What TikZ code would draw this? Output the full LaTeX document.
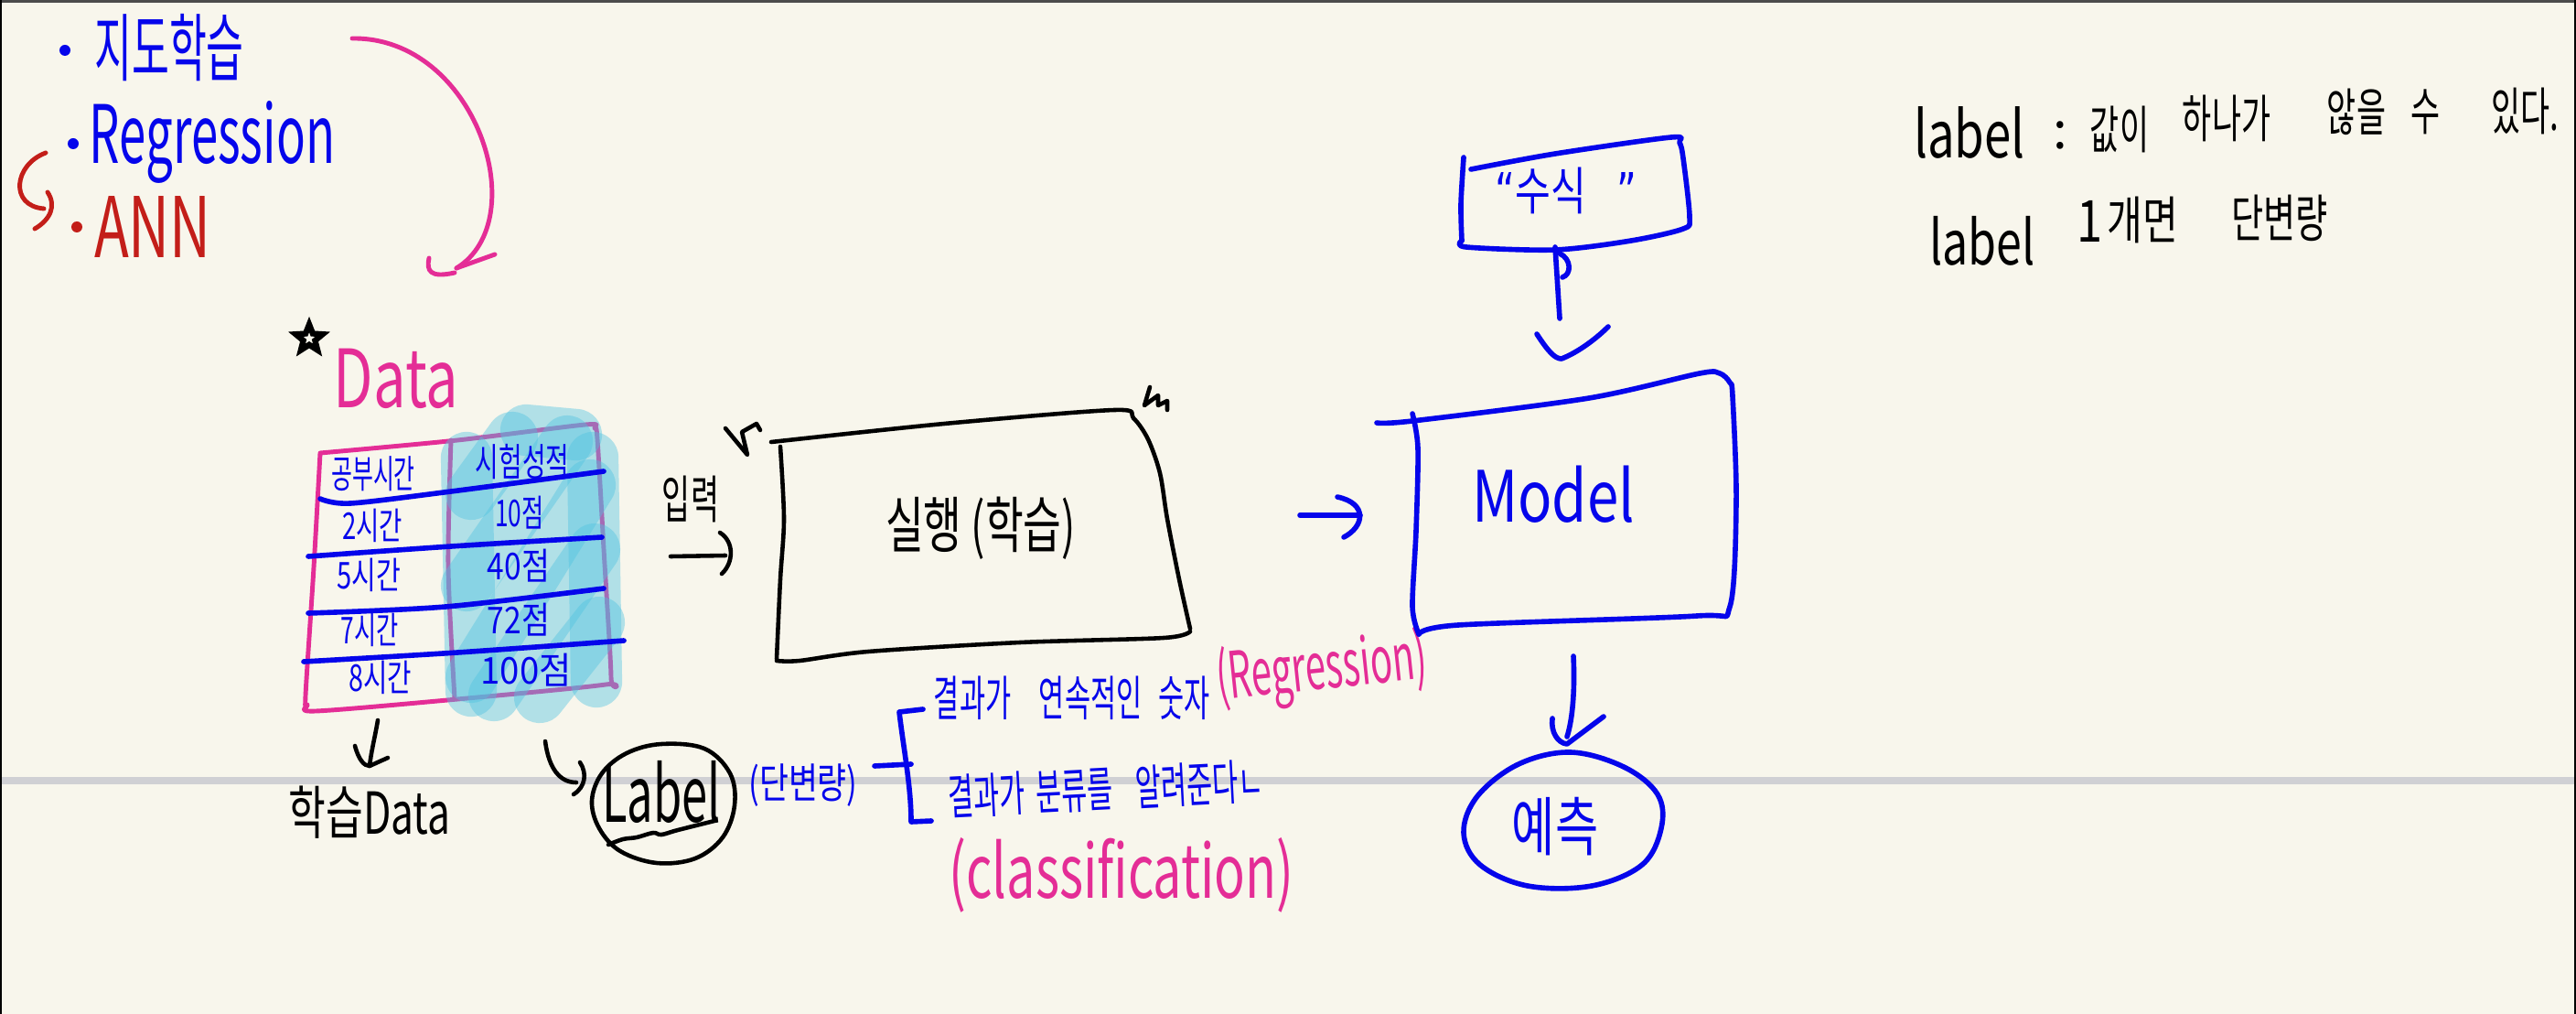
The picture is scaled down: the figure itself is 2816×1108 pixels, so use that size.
\documentclass[tikz,border=0pt]{standalone}
\usepackage{fontspec}
\usepackage{graphicx}
\setmainfont{Noto Sans CJK KR}
\newfontfamily\dvs{DejaVu Sans}
\usetikzlibrary{shapes.geometric}
\definecolor{paper}{RGB}{248,246,236}
\definecolor{penblue}{RGB}{5,5,235}
\definecolor{penpink}{RGB}{228,45,150}
\definecolor{penred}{RGB}{195,30,25}
\definecolor{hlcyan}{RGB}{80,195,225}
\definecolor{rulegray}{RGB}{208,208,212}
\newcommand\hw[3]{\fontsize{#1}{#1}\selectfont\scalebox{#2}[1]{#3}}
\begin{document}
\begin{tikzpicture}[x=0.1mm,y=-0.1mm,
  bl/.style={draw=penblue,line width=1.6pt,line cap=round,line join=round},
  bk/.style={draw=black,line width=1.3pt,line cap=round,line join=round},
  pk/.style={draw=penpink,line width=1.4pt,line cap=round,line join=round},
  rd/.style={draw=penred,line width=1.4pt,line cap=round,line join=round},
  hl/.style={draw=hlcyan,line width=16pt,line cap=round,opacity=0.42},
  txt/.style={inner sep=0pt,outer sep=0pt,anchor=center},
  tb/.style={txt,text=penblue},
  tk/.style={txt,text=black},
  tp/.style={txt,text=penpink},
  tr/.style={txt,text=penred}]
\useasboundingbox (0,0) rectangle (2816,1108);
\fill[paper] (0,0) rectangle (2816,1108);
\draw[rulegray,line width=2pt] (0,853) -- (2816,853);
\draw[black!70,line width=1pt] (0,1.5) -- (2816,1.5);
\draw[black,line width=0.8pt] (1,0) -- (1,1108);
\draw[black,line width=0.8pt] (2815,0) -- (2815,1108);

% ---------- top-left list ----------
\fill[penblue] (71,55) circle [radius=6];
\node[tb] (jido) at (185,52) {\hw{23}{.55}{지도학습}};
\fill[penblue] (80,157) circle [radius=6];
\node[tb] (regr) at (232,155) {\hw{25}{.6}{Regression}};
\fill[penred] (84,248) circle [radius=6];
\node[tr] (ann) at (167,248) {\hw{26}{.68}{ANN}};
\coordinate (redA) at (50,167);
\coordinate (redB) at (48,228);
\draw[rd] (redA) .. controls (15,180) and (10,225) .. (redB);
\draw[rd] (52,210) .. controls (62,225) and (55,240) .. (38,250);

% pink arrow
\coordinate (pinkA) at (385,42);
\coordinate (pinkB) at (499,293);
\draw[pk] (pinkA) .. controls (520,40) and (585,240) .. (pinkB);
\draw[pk] (469,282) .. controls (466,296) and (470,304) .. (497,298);
\draw[pk] (pinkB) -- (541,278);

% ---------- Data table ----------
\node[star,star points=5,star point ratio=2.3,draw=black,line width=1.8pt,minimum size=3.1mm,inner sep=0pt] (star) at (338,370) {};
\node[tp] (data) at (433,414) {\hw{25}{.72}{Data}};
\draw[pk] plot[smooth,tension=.5] coordinates {(350,495) (500,481) (640,464) (650,468) (653,480) (660,600) (668,740) (662,748) (500,764) (345,777) (336,770) (334,760) (343,620) (350,495)};
\draw[pk] plot[smooth,tension=.5] coordinates {(493,481) (490,620) (497,763)};
% highlight
\draw[hl] (515,540) -- (560,478);
\draw[hl] (510,640) -- (620,482);
\draw[hl] (515,740) -- (645,530);
\draw[hl] (540,760) -- (650,600);
\draw[hl] (590,762) -- (655,680);
\draw[hl] (648,500) -- (652,745);
\draw[hl] (510,500) -- (515,755);
\draw[hl] (575,470) -- (630,475);
% row lines
\draw[bl] plot[smooth,tension=.5] coordinates {(350,545) (383,550) (493,537) (660,515)};
\draw[bl] plot[smooth,tension=.5] coordinates {(337,608) (493,597) (658,587)};
\draw[bl] plot[smooth,tension=.5] coordinates {(337,670) (487,663) (660,643)};
\draw[bl] plot[smooth,tension=.5] coordinates {(332,723) (500,713) (682,700)};
% cells
\node[tb] (c11) at (408,518) {\hw{12}{.59}{공부시간}};
\node[tb] (c12) at (571,505) {\hw{12}{.66}{시험성적}};
\node[tb] (c21) at (407,574) {\hw{11.5}{.68}{2시간}};
\node[tb] (c22) at (568,560) {\hw{11.5}{.65}{10점}};
\node[tb] (c31) at (403,628) {\hw{11.5}{.72}{5시간}};
\node[tb] (c32) at (567,618) {\hw{11.5}{.83}{40점}};
\node[tb] (c41) at (404,688) {\hw{11.5}{.65}{7시간}};
\node[tb] (c42) at (567,677) {\hw{11.5}{.83}{72점}};
\node[tb] (c51) at (416,740) {\hw{11.5}{.71}{8시간}};
\node[tb] (c52) at (575,732) {\hw{11.5}{.95}{100점}};

% below table
\coordinate (dnA) at (413,787);
\coordinate (dnB) at (404,837);
\draw[bk] (dnA) .. controls (410,805) and (406,820) .. (dnB);
\draw[bk] (388,815) .. controls (392,830) and (398,837) .. (dnB) -- (424,828);
\node[tk] (hakdata) at (404,888) {\hw{18}{.7}{학습Data}};
\coordinate (lbA) at (596,810);
\coordinate (lbB) at (630,855);
\draw[bk] (lbA) .. controls (600,840) and (612,855) .. (lbB);
\draw[bk] (634,833) .. controls (642,845) and (640,860) .. (627,868);
\draw[bk] plot[smooth cycle,tension=.6] coordinates {(723,813) (770,818) (798,845) (803,880) (790,915) (760,938) (718,943) (678,930) (655,905) (647,875) (658,845) (685,823)};
\node[tk] (label) at (723,865) {\hw{24}{.6}{Label}};
\draw[bk] plot[smooth,tension=.6] coordinates {(665,923) (681,917) (696,915) (714,910) (723,912) (741,907) (781,897)};
\node[tb] (danb) at (878,858) {\hw{13}{.76}{(단변량)}};

% bracket
\coordinate (brL) at (956,837);
\coordinate (brM) at (996,835);
\draw[bl] (brL) -- (brM);
\draw[bl] (1009,775) -- (983,778) .. controls (988,820) and (996,860) .. (996,898) -- (1018,897);
\node[tb] (res1) at (1172,763) {\hw{15}{.58}{결과가\hspace{1em}연속적인\hspace{.6em}숫자}};
\node[tp,rotate=6] (regr2) at (1445,733) {\hw{20}{.57}{(Regression)}};
\node[tb,rotate=3] (res2) at (1209,862) {\hw{15}{.58}{결과가\hspace{.4em}분류를\hspace{.8em}알려준다ㄴ}};
\node[tp] (clas) at (1226,956) {\hw{23}{.69}{(classification)}};

% main box
\draw[bk] plot[smooth,tension=.5] coordinates {(843,483) (1032,463) (1218,448) (1239,457) (1255,480) (1268,517) (1276,567) (1289,633) (1301,687)};
\draw[bk] plot[smooth,tension=.5] coordinates {(1301,690) (1272,697) (1115,702) (949,712) (874,722) (849,722)};
\draw[bk] plot[smooth,tension=.5] coordinates {(853,488) (857,567) (853,633) (849,720)};
\node[tk] (exec) at (1072,577) {\hw{19}{.68}{실행 (학습)}};
\draw[bk] (793,468) -- (817,497) -- (811,472) -- (827,463) -- (831,470);
\draw[bk] (1257,423) -- (1251,443) -- (1266,432) -- (1266,443) -- (1276,438) -- (1276,448);
\node[tk] (input) at (755,545) {\hw{16}{.6}{입력}};
\coordinate (inA) at (733,608);
\coordinate (inB) at (793,607);
\draw[bk] (inA) -- (inB);
\draw[bk] (787,582) .. controls (803,592) and (802,615) .. (789,627);

% model
\coordinate (mA) at (1421,563);
\coordinate (mB) at (1487,563);
\draw[bl] (mA) -- (mB);
\draw[bl] (1462,543) .. controls (1495,550) and (1492,575) .. (1469,587);
\draw[bl] plot[smooth,tension=.5] coordinates {(1505,462) (1544,460) (1737,435) (1858,408) (1880,408) (1891,418) (1894,433) (1898,547) (1891,663) (1855,673) (1594,683) (1551,693)};
\draw[bl] plot[smooth,tension=.5] coordinates {(1544,452) (1550,490) (1548,580) (1544,663) (1551,693)};
\node[tb] (model) at (1698,540) {\hw{22}{.8}{Model}};

% formula box
\draw[bl] plot[smooth,tension=.5] coordinates {(1608,185) (1700,168) (1827,150) (1836,156) (1840,173) (1847,237) (1840,250) (1783,263) (1700,273) (1603,270) (1598,263)};
\draw[bl] plot[smooth,tension=.5] coordinates {(1600,172) (1597,223) (1598,263)};
\node[tb] (formula) at (1712,208) {\hw{16}{.75}{{\dvs“}수식\hspace{.8em}{\dvs”}}};
\coordinate (fA) at (1700,270);
\coordinate (fB) at (1705,348);
\draw[bl] (fA) -- (fB);
\draw[bl] (1705,277) .. controls (1718,283) and (1718,300) .. (1708,303);
\draw[bl] (1680,365) .. controls (1693,385) and (1700,392) .. (1707,392) .. controls (1725,385) and (1745,370) .. (1758,357);

% prediction
\coordinate (pA) at (1720,717);
\coordinate (pB) at (1713,805);
\draw[bl] (pA) .. controls (1722,760) and (1718,790) .. (pB);
\draw[bl] (1697,785) .. controls (1695,800) and (1703,812) .. (1713,813) -- (1753,783);
\draw[bl] plot[smooth cycle,tension=.6] coordinates {(1717,822) (1775,838) (1812,868) (1816,905) (1795,945) (1740,968) (1670,968) (1618,945) (1600,910) (1615,870) (1660,835)};
\node[tb] (pred) at (1700,903) {\hw{20}{.73}{예측}};

% top-right notes
\node[tk] (n1) at (2153,145) {\hw{20}{.75}{label}};
\node[tk] (n2) at (2252,148) {\hw{16}{1}{:}};
\node[tk] (n3) at (2317,141) {\hw{16}{.62}{값이}};
\node[tk] (n4) at (2434,129) {\hw{16}{.62}{하나가}};
\node[tk] (n5) at (2576,122) {\hw{16}{.62}{않을}};
\node[tk] (n6) at (2651,122) {\hw{16}{.62}{수}};
\node[tk] (n7) at (2760,121) {\hw{16}{.62}{있다.}};
\node[tk] (m1) at (2167,263) {\hw{19}{.75}{label}};
\node[tk] (m2) at (2285,242) {\hw{18}{.8}{1}};
\node[tk] (m3) at (2342,240) {\hw{16}{.75}{개면}};
\node[tk] (m4) at (2492,238) {\hw{16}{.68}{단변량}};
\end{tikzpicture}
\end{document}
